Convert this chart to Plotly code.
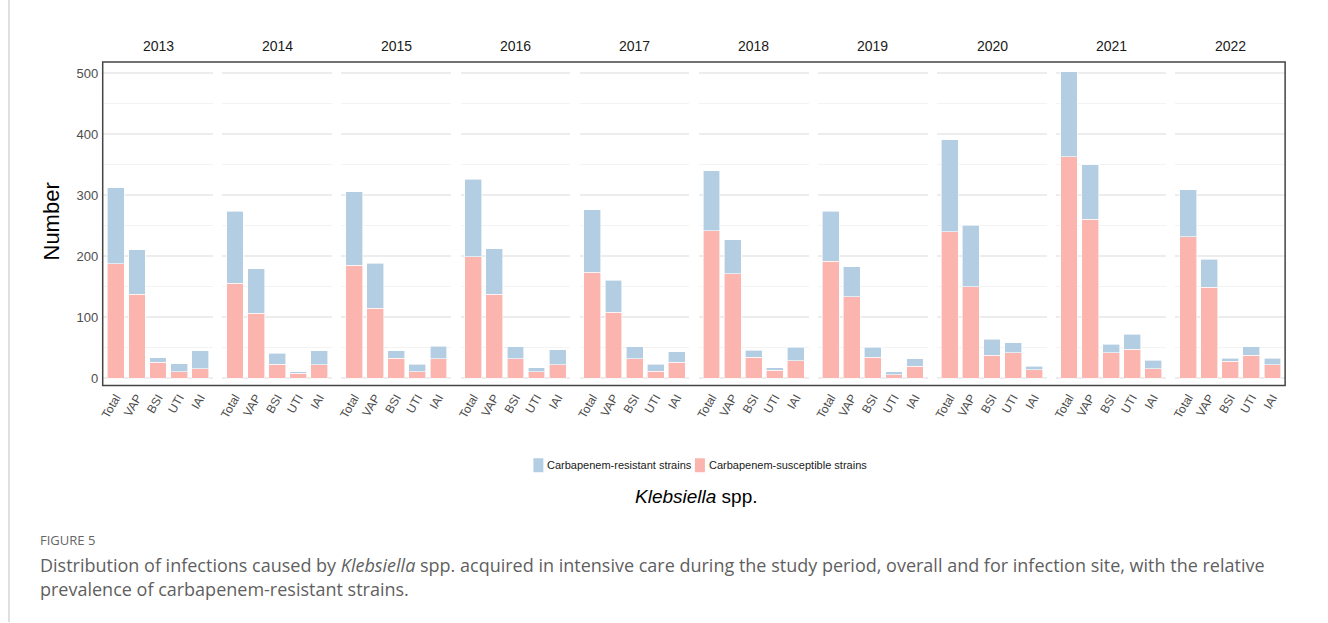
import plotly.graph_objects as go

# Infection counts by year and site (Klebsiella spp.)
years = ["2013", "2014", "2015", "2016", "2017", "2018", "2019", "2020", "2021", "2022"]
sites = ["Total", "VAP", "BSI", "UTI", "IAI"]

susceptible = [
    [188, 138, 26, 11, 16],
    [156, 107, 23, 8, 22],
    [185, 115, 33, 11, 32],
    [199, 138, 32, 11, 22],
    [174, 108, 32, 12, 26],
    [242, 171, 35, 13, 29],
    [192, 134, 35, 6, 20],
    [240, 150, 38, 42, 14],
    [363, 261, 42, 48, 16],
    [232, 149, 28, 38, 22],
]
resistant = [
    [124, 73, 8, 13, 29],
    [118, 73, 18, 3, 23],
    [121, 74, 12, 12, 21],
    [127, 74, 20, 6, 25],
    [102, 53, 20, 11, 18],
    [98, 56, 11, 4, 22],
    [82, 49, 16, 5, 12],
    [151, 101, 26, 16, 6],
    [139, 89, 14, 24, 14],
    [77, 46, 5, 14, 11],
]
series_names = ["Carbapenem-resistant strains", "Carbapenem-susceptible strains"]

W, H = 1328, 623
COL_RES = "#B3CDE3"
COL_SUS = "#FBB4AE"
SANS = "Liberation Sans, Arial, sans-serif"
CAPTION = "Open Sans, Noto Sans, sans-serif"
GRID = "#EDEDED"

# panel geometry in pixels
frame_left, frame_right, frame_top, frame_bottom = 99, 1285, 62, 386
panel_w, panel_step = 110, 119.5

def px(x):
    return x / W

def py(y):
    return 1 - y / H

fig = go.Figure()
layout = {}
annotations = []

for i, yr in enumerate(years):
    n = "" if i == 0 else str(i + 1)
    xa, ya = "x" + n, "y" + n
    fig.add_trace(go.Bar(
        x=sites, y=susceptible[i], xaxis=xa, yaxis=ya,
        marker=dict(color=COL_SUS, line=dict(color="white", width=0.6)),
        width=0.8, name=series_names[1], showlegend=False,
    ))
    fig.add_trace(go.Bar(
        x=sites, y=resistant[i], xaxis=xa, yaxis=ya,
        marker=dict(color=COL_RES, line=dict(color="white", width=0.6)),
        width=0.8, name=series_names[0], showlegend=False,
    ))
    left = frame_left + 0.5 + panel_step * i
    right = left + panel_w
    layout["xaxis" + n] = dict(
        domain=[px(left), px(right)], anchor=ya,
        range=[-0.6, 4.6], type="category",
        tickangle=-60, showgrid=False, zeroline=False, showline=False,
        ticks="", tickfont=dict(family=SANS, size=12, color="#4D4D4D"),
        ticklabelstandoff=2,
    )
    ycfg = dict(
        domain=[py(frame_bottom), py(frame_top)], anchor=xa,
        range=[-11.5, 518.5], tickvals=[0, 100, 200, 300, 400, 500],
        showgrid=True, gridcolor=GRID, gridwidth=1.5,
        minor=dict(dtick=50, showgrid=True, gridcolor="#F3F3F3", gridwidth=1.2),
        zeroline=False, showline=False, ticks="",
        showticklabels=(i == 0), ticklabelstandoff=4,
        tickfont=dict(family=SANS, size=13, color="#4D4D4D"),
    )
    if i > 0:
        ycfg["matches"] = "y"
    layout["yaxis" + n] = ycfg
    annotations.append(dict(
        x=px((left + right) / 2), y=py(46), xref="paper", yref="paper",
        text=yr, showarrow=False, xanchor="center", yanchor="middle",
        font=dict(family=SANS, size=14, color="#1A1A1A"),
    ))

shapes = [
    dict(type="rect", xref="paper", yref="paper",
         x0=px(frame_left), x1=px(frame_right), y0=py(frame_bottom), y1=py(frame_top),
         line=dict(color="#444444", width=1.5), fillcolor="rgba(0,0,0,0)", layer="above"),
    dict(type="line", xref="paper", yref="paper",
         x0=px(5), x1=px(5), y0=0, y1=1, line=dict(color="#D5D5D5", width=1.5)),
]

# legend keys below the panels
legend_keys = [(531, 545, COL_RES, series_names[0]), (693, 707, COL_SUS, series_names[1])]
for kx, tx, col, label in legend_keys:
    shapes.append(dict(type="rect", xref="paper", yref="paper",
                       x0=px(kx), x1=px(kx + 10), y0=py(473), y1=py(459),
                       line=dict(width=0), fillcolor=col))
    annotations.append(dict(x=px(tx - 2), y=py(466), xref="paper", yref="paper",
                            text=label, showarrow=False, xanchor="left", yanchor="middle",
                            font=dict(family=SANS, size=11, color="#1A1A1A")))

annotations += [
    dict(x=px(48), y=py(222), xref="paper", yref="paper", text="Number",
         textangle=-90, showarrow=False, xanchor="center", yanchor="middle",
         font=dict(family=SANS, size=22, color="black")),
    dict(x=px(695), y=py(497), xref="paper", yref="paper",
         text="<i>Klebsiella</i> spp.", showarrow=False,
         xanchor="center", yanchor="middle",
         font=dict(family=SANS, size=19, color="black")),
    dict(x=px(34), y=py(541), xref="paper", yref="paper", text="FIGURE 5",
         showarrow=False, xanchor="left", yanchor="middle",
         font=dict(family=CAPTION, size=13, color="#666666")),
    dict(x=px(34), y=py(566), xref="paper", yref="paper",
         text="Distribution of infections caused by <i>Klebsiella</i> spp. acquired in intensive care during the study period, overall and for infection site, with the relative",
         showarrow=False, xanchor="left", yanchor="middle",
         font=dict(family=CAPTION, size=18, color="#5F5F5F")),
    dict(x=px(34), y=py(590), xref="paper", yref="paper",
         text="prevalence of carbapenem-resistant strains.",
         showarrow=False, xanchor="left", yanchor="middle",
         font=dict(family=CAPTION, size=18, color="#5F5F5F")),
]

fig.update_layout(
    width=W, height=H, margin=dict(l=0, r=0, t=0, b=0),
    paper_bgcolor="white", plot_bgcolor="white",
    barmode="stack", bargap=0.2, showlegend=False,
    annotations=annotations, shapes=shapes,
    **layout,
)

fig.write_html("out.html")
